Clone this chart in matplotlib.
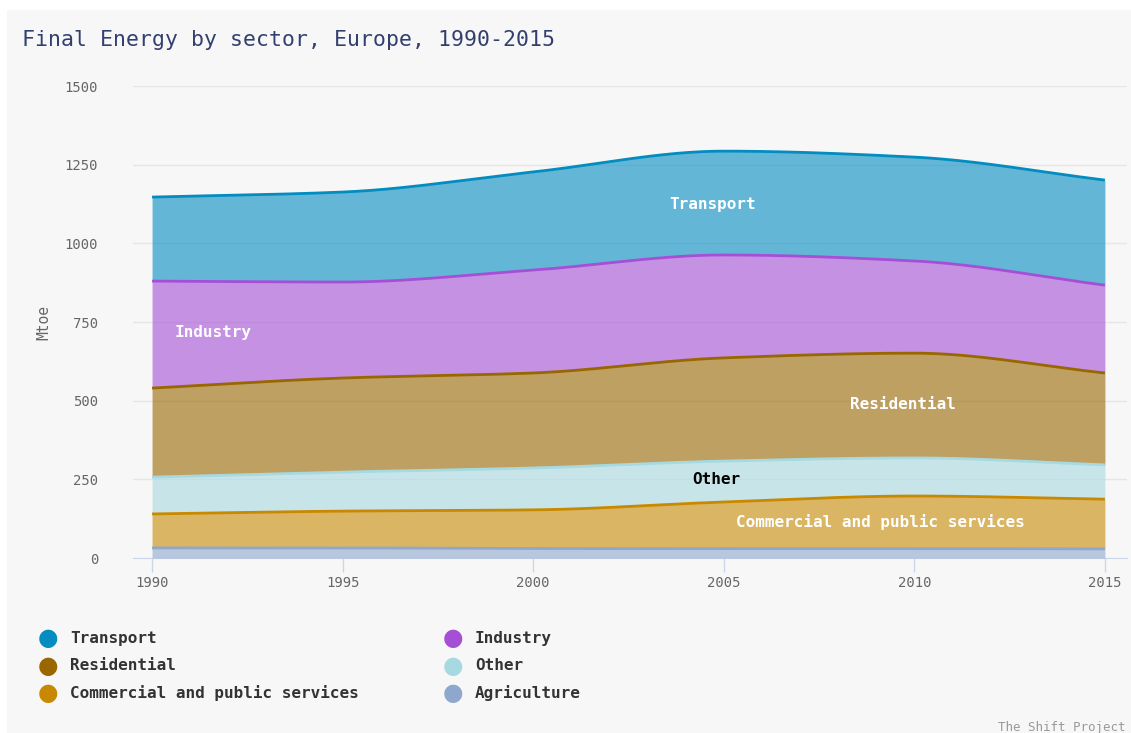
import numpy as np
import matplotlib.pyplot as plt
from matplotlib.patches import Rectangle

# Data (Mtoe), bottom to top of the stack
years = [1990, 1995, 2000, 2005, 2010, 2015]
agriculture = [32, 32, 30, 30, 30, 29]
commercial = [108, 117, 123, 148, 167, 158]
other = [117, 124, 133, 130, 121, 109]
residential = [283, 299, 302, 328, 333, 292]
industry = [340, 305, 327, 327, 293, 279]
transport = [267, 286, 312, 330, 330, 334]

names = ['Agriculture', 'Commercial and public services', 'Other',
         'Residential', 'Industry', 'Transport']
series = [agriculture, commercial, other, residential, industry, transport]
colors = ['#8ea8cd', '#c88900', '#a7d9e1', '#996600', '#a54fd7', '#028cc0']

FONT = 'DejaVu Sans Mono'
BG = '#f7f7f7'


# Monotone cubic curve through the points (for drawing smooth areas)
def smooth(x, y, n=400):
    x = np.asarray(x, float)
    y = np.asarray(y, float)
    h = np.diff(x)
    d = np.diff(y) / h
    m = np.zeros_like(y)
    m[0], m[-1] = d[0], d[-1]
    for i in range(1, len(y) - 1):
        if d[i - 1] * d[i] <= 0:
            m[i] = 0
        else:
            w1 = 2 * h[i] + h[i - 1]
            w2 = h[i] + 2 * h[i - 1]
            m[i] = (w1 + w2) / (w1 / d[i - 1] + w2 / d[i])
    xs = np.linspace(x[0], x[-1], n)
    idx = np.clip(np.searchsorted(x, xs) - 1, 0, len(x) - 2)
    t = (xs - x[idx]) / h[idx]
    h00 = 2 * t**3 - 3 * t**2 + 1
    h10 = t**3 - 2 * t**2 + t
    h01 = -2 * t**3 + 3 * t**2
    h11 = t**3 - t**2
    ys = h00 * y[idx] + h10 * h[idx] * m[idx] + h01 * y[idx + 1] + h11 * h[idx] * m[idx + 1]
    return xs, ys


fig = plt.figure(figsize=(11.31, 7.33), dpi=100)
fig.patch.set_facecolor('white')
fig.patches.append(Rectangle((7 / 1131, 0), 1 - 7 / 1131, 1 - 10 / 733,
                             transform=fig.transFigure, facecolor=BG,
                             edgecolor='none', zorder=-10))

ax = fig.add_axes([133 / 1131, 1 - 558 / 733, (1127 - 133) / 1131, (558 - 86) / 733])
ax.set_facecolor('none')

cum = np.cumsum(np.array(series, float), axis=0)
base_x, prev = smooth(years, np.zeros(len(years)))
for i, (name, col) in enumerate(zip(names, colors)):
    xs, top = smooth(years, cum[i])
    ax.fill_between(xs, prev, top, color=col, alpha=0.6, lw=0, zorder=2)
    ax.plot(xs, top, color=col, lw=2, zorder=5, solid_capstyle='butt')
    prev = top

ax.set_xlim(1989.5, 2015.58)
ax.set_ylim(0, 1500)
ax.set_yticks([0, 250, 500, 750, 1000, 1250, 1500])
ax.set_xticks(years)
ax.grid(axis='y', color='#e6e6e6', lw=1, zorder=0)
for s in ['top', 'right', 'left']:
    ax.spines[s].set_visible(False)
ax.spines['bottom'].set_color('#ccd6eb')
ax.spines['bottom'].set_zorder(1)
ax.tick_params(axis='y', length=0, pad=25, labelsize=10, labelcolor='#666666')
ax.tick_params(axis='x', length=10, width=1, color='#ccd6eb', pad=3,
               labelsize=10, labelcolor='#666666')
for lab in ax.get_xticklabels() + ax.get_yticklabels():
    lab.set_family(FONT)
ax.set_ylabel('Mtoe', family=FONT, fontsize=10.5, color='#666666')
ax.yaxis.set_label_coords((51 - 133) / 994, 0.5)

# area labels
lab_kw = dict(family=FONT, fontsize=11.5, fontweight='bold', ha='center',
              va='center', zorder=10)
ax.text(2004.7, 1125, 'Transport', color='white', **lab_kw)
ax.text(1991.6, 717, 'Industry', color='white', **lab_kw)
ax.text(2009.7, 487, 'Residential', color='white', **lab_kw)
ax.text(2004.8, 248, 'Other', color='black', **lab_kw)
ax.text(2009.1, 115, 'Commercial and public services', color='white', **lab_kw)

fig.text(22 / 1131, 1 - 40 / 733, 'Final Energy by sector, Europe, 1990-2015',
         family=FONT, fontsize=15.5, color='#333f6e', va='center', ha='left')

# legend
legend_items = [('Transport', '#028cc0', 48, 638), ('Industry', '#a54fd7', 453, 638),
                ('Residential', '#996600', 48, 666), ('Other', '#a7d9e1', 453, 666),
                ('Commercial and public services', '#c88900', 48, 693),
                ('Agriculture', '#8ea8cd', 453, 693)]
for text, col, px, py in legend_items:
    fig.text(px / 1131, 1 - py / 733, '\u25cf', color=col, fontsize=17,
             ha='center', va='center', family='DejaVu Sans')
    fig.text((px + 22) / 1131, 1 - py / 733, text, family=FONT, fontsize=11.5,
             fontweight='bold', color='#333333', ha='left', va='center')

fig.text(1126 / 1131, 1 - 728 / 733, 'The Shift Project', family=FONT,
         fontsize=9, color='#999999', ha='right', va='center')

fig.savefig('out.png', dpi=100, facecolor=fig.get_facecolor())
